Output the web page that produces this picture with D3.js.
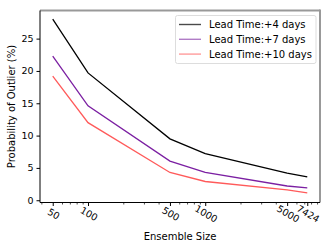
<!DOCTYPE html>
<html><head><meta charset="utf-8">
<script src="https://cdn.jsdelivr.net/npm/d3@7"></script>
<style>body{margin:0;background:#fff}svg{display:block;font-family:"DejaVu Sans",sans-serif}</style>
</head><body><svg id="c" width="332" height="249"></svg>
<script>
const sizes = [50, 100, 500, 1000, 5000, 7424];
const lead4 = [28.0, 19.7, 9.5, 7.2, 4.2, 3.6];
const lead7 = [22.3, 14.6, 6.05, 4.3, 2.2, 1.9];
const lead10 = [19.2, 12.0, 4.3, 2.9, 1.6, 1.15];
const seriesNames = ["Lead Time:+4 days", "Lead Time:+7 days", "Lead Time:+10 days"];
const seriesColors = ["#000000", "#7b1fa2", "#ff5a5a"];
const legendColors = ["#4a4a4a", "#b07cc6", "#ff9c9c"];
const yTicks = [0, 5, 10, 15, 20, 25];
const xTicks = [50, 100, 500, 1000, 5000, 7424];
const minorTicks = [40,60,70,80,90,200,300,400,600,700,800,900,2000,3000,4000,6000,7000,8000,9000];

const svg = d3.select("#c");
const L = 40, R = 320, T = 10.5, B = 202.5;
const lm = 0.1086;
const x = d3.scaleLog().domain([50 / Math.pow(10, lm), 7424 * Math.pow(10, lm)]).range([L, R]);
const y = d3.scaleLinear().domain([-0.35, 29.35]).range([B, T]);

// series
const all = [lead4, lead7, lead10];
const line = d3.line().x((d, i) => x(sizes[i])).y(d => y(d));
all.forEach((s, k) => {
  svg.append("path").datum(s).attr("d", line).attr("fill", "none")
    .attr("stroke", seriesColors[k]).attr("stroke-width", 1.3);
});

// spines
svg.append("line").attr("x1", L).attr("x2", R).attr("y1", T).attr("y2", T).attr("stroke", "#999").attr("stroke-width", 2);
svg.append("line").attr("x1", R).attr("x2", R).attr("y1", T - 1).attr("y2", B).attr("stroke", "#999").attr("stroke-width", 2);
svg.append("line").attr("x1", L).attr("x2", L).attr("y1", T).attr("y2", B).attr("stroke", "#000").attr("stroke-width", 1);
svg.append("line").attr("x1", L).attr("x2", R).attr("y1", B).attr("y2", B).attr("stroke", "#000").attr("stroke-width", 1);

// y axis
const yAx = svg.append("g").attr("transform", `translate(${L},0)`)
  .call(d3.axisLeft(y).tickValues(yTicks).tickSize(3.5).tickPadding(3));
yAx.select(".domain").remove();
yAx.selectAll("text").attr("font-size", 9.5).attr("font-family", "DejaVu Sans").attr("fill", "#000");
yAx.selectAll("line").attr("stroke", "#000");

// x axis minor
const xMin = svg.append("g").attr("transform", `translate(0,${B})`)
  .call(d3.axisBottom(x).tickValues(minorTicks.filter(v => x(v) >= L && x(v) <= R)).tickSize(2).tickFormat(""));
xMin.select(".domain").remove();
xMin.selectAll("line").attr("stroke", "#000").attr("stroke-width", 0.7);

// x axis major
const xAx = svg.append("g").attr("transform", `translate(0,${B})`)
  .call(d3.axisBottom(x).tickValues(xTicks).tickSize(3.5).tickFormat(d3.format("d")));
xAx.select(".domain").remove();
xAx.selectAll("line").attr("stroke", "#000");
xAx.selectAll("text").attr("font-size", 9.5).attr("font-family", "DejaVu Sans").attr("fill", "#000")
  .attr("text-anchor", "middle").attr("dy", null).attr("y", 0)
  .attr("transform", "translate(0,12) rotate(30)").attr("dominant-baseline", "middle");

// axis labels
svg.append("text").attr("x", 180).attr("y", 240).attr("text-anchor", "middle")
  .attr("font-size", 10).text("Ensemble Size");
svg.append("text").attr("transform", `translate(15,${(T + B) / 2}) rotate(-90)`).attr("text-anchor", "middle")
  .attr("font-size", 10).text("Probability of Outlier (%)");

// legend
const lg = svg.append("g");
lg.append("rect").attr("x", 175.5).attr("y", 15.5).attr("width", 140.5).attr("height", 48)
  .attr("rx", 2).attr("fill", "#fff").attr("fill-opacity", 0.8).attr("stroke", "#ddd").attr("stroke-width", 1);
seriesNames.forEach((n, k) => {
  const yy = 24.5 + k * 14.8;
  lg.append("line").attr("x1", 179).attr("x2", 201).attr("y1", yy).attr("y2", yy)
    .attr("stroke", legendColors[k]).attr("stroke-width", 1.4);
  lg.append("text").attr("x", 209).attr("y", yy).attr("dy", "0.35em").attr("font-size", 10).text(n);
});
</script></body></html>
